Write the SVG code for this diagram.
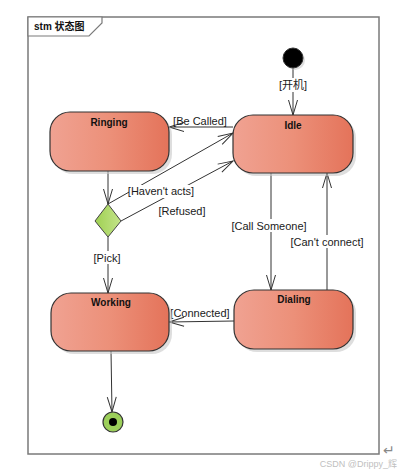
<svg xmlns="http://www.w3.org/2000/svg" width="401" height="475" viewBox="0 0 401 475">
<defs>
<linearGradient id="stateGrad" x1="0" y1="0" x2="1" y2="0">
<stop offset="0" stop-color="#F0A292"/>
<stop offset="0.5" stop-color="#EC9079"/>
<stop offset="1" stop-color="#E4735A"/>
</linearGradient>
<linearGradient id="diaGrad" x1="0" y1="0" x2="1" y2="0">
<stop offset="0" stop-color="#9FD052"/>
<stop offset="1" stop-color="#C4E48A"/>
</linearGradient>
<marker id="arr" markerUnits="userSpaceOnUse" markerWidth="17" markerHeight="12" refX="15" refY="5" orient="auto" overflow="visible">
<path d="M0,0.5 L15,5 L0,9.5" fill="none" stroke="#333" stroke-width="1"/>
</marker>
</defs>
<style>
.state{fill:url(#stateGrad);stroke:#333;stroke-width:1.2}
.shadow{fill:#c8c8c8;opacity:0.6}
.title{font-family:"Liberation Sans",Arial,sans-serif;font-size:10px;font-weight:bold;fill:#111;text-anchor:middle}
.lbl{font-family:"Liberation Sans","Noto Sans CJK SC",Arial,sans-serif;font-size:11px;fill:#1a1a1a;text-anchor:middle}
.lblbg{fill:#fff}
.conn{fill:none;stroke:#333;stroke-width:1;marker-end:url(#arr)}
</style>
<rect width="401" height="475" fill="#fff"/>
<g id="frame">
<rect x="28" y="17" width="351" height="437" fill="none" stroke="#7a7a7a" stroke-width="1.5"/>
<path d="M28,17 L102,17 L102,23 L89,36 L28,36 Z" fill="#fff" stroke="#7a7a7a" stroke-width="1.2"/>
<text x="34" y="30" font-family="Liberation Sans,'Noto Sans CJK SC',sans-serif" font-size="10" font-weight="bold" fill="#111">stm 状态图</text>
</g>
<g id="connectors">
<line class="conn" x1="293" y1="68" x2="293" y2="115"/>
<line class="conn" x1="233" y1="127" x2="169" y2="127"/>
<line class="conn" x1="108" y1="171" x2="108" y2="204"/>
<line class="conn" x1="108" y1="204" x2="233" y2="133"/>
<line class="conn" x1="121" y1="221" x2="233" y2="161"/>
<line class="conn" x1="108" y1="237" x2="108" y2="293"/>
<line class="conn" x1="271" y1="173" x2="271" y2="290"/>
<line class="conn" x1="327" y1="290" x2="327" y2="173"/>
<line class="conn" x1="234" y1="321" x2="169" y2="322"/>
<line class="conn" x1="111" y1="351" x2="112" y2="412"/>
<g id="labels">
<rect class="lblbg" x="276" y="78" width="34" height="14"/>
<text class="lbl" x="293" y="89">[开机]</text>
<text class="lbl" x="200" y="125">[Be Called]</text>
<rect class="lblbg" x="129" y="185" width="64" height="13"/>
<text class="lbl" x="161" y="195">[Haven't acts]</text>
<text class="lbl" x="182" y="215">[Refused]</text>
<rect class="lblbg" x="93" y="251" width="29" height="13"/>
<text class="lbl" x="107" y="262">[Pick]</text>
<rect class="lblbg" x="231" y="219" width="76" height="13"/>
<text class="lbl" x="269" y="230">[Call Someone]</text>
<rect class="lblbg" x="291" y="235" width="72" height="13"/>
<text class="lbl" x="327" y="246">[Can't connect]</text>
<text class="lbl" x="200" y="317">[Connected]</text>
</g>
</g>
<g id="initial">
<circle cx="295" cy="60" r="10" fill="#c8c8c8" opacity="0.6"/>
<circle cx="293" cy="58" r="10" fill="#000" stroke="#333" stroke-width="1"/>
</g>
<g id="idle">
<rect class="shadow" x="236" y="118" width="120" height="58" rx="20"/>
<rect class="state" x="233" y="115" width="120" height="58" rx="20"/>
<text class="title" x="293" y="129">Idle</text>
</g>
<g id="ringing">
<rect class="shadow" x="53" y="115" width="119" height="59" rx="20"/>
<rect class="state" x="50" y="112" width="119" height="59" rx="20"/>
<text class="title" x="109" y="126">Ringing</text>
</g>
<g id="decision">
<polygon points="108,204 121,221 108,237 95,221" fill="url(#diaGrad)" stroke="#444" stroke-width="1"/>
</g>
<g id="working">
<rect class="shadow" x="54" y="296" width="118" height="58" rx="20"/>
<rect class="state" x="51" y="293" width="118" height="58" rx="20"/>
<text class="title" x="111" y="306">Working</text>
</g>
<g id="dialing">
<rect class="shadow" x="237" y="293" width="119" height="59" rx="20"/>
<rect class="state" x="234" y="290" width="119" height="59" rx="20"/>
<text class="title" x="294" y="303">Dialing</text>
</g>
<g id="final">
<circle cx="113" cy="422" r="10" fill="#9CCF5A" stroke="#333" stroke-width="1.2"/>
<circle cx="113" cy="422" r="4" fill="#000"/>
</g>
<text x="383" y="455" font-family="DejaVu Sans,sans-serif" font-size="14" fill="#888">↵</text>
<text x="397" y="467" font-family="Liberation Sans,'Noto Sans CJK SC',sans-serif" font-size="9" fill="#c0c0c0" text-anchor="end">CSDN @Drippy_辉</text>
</svg>
